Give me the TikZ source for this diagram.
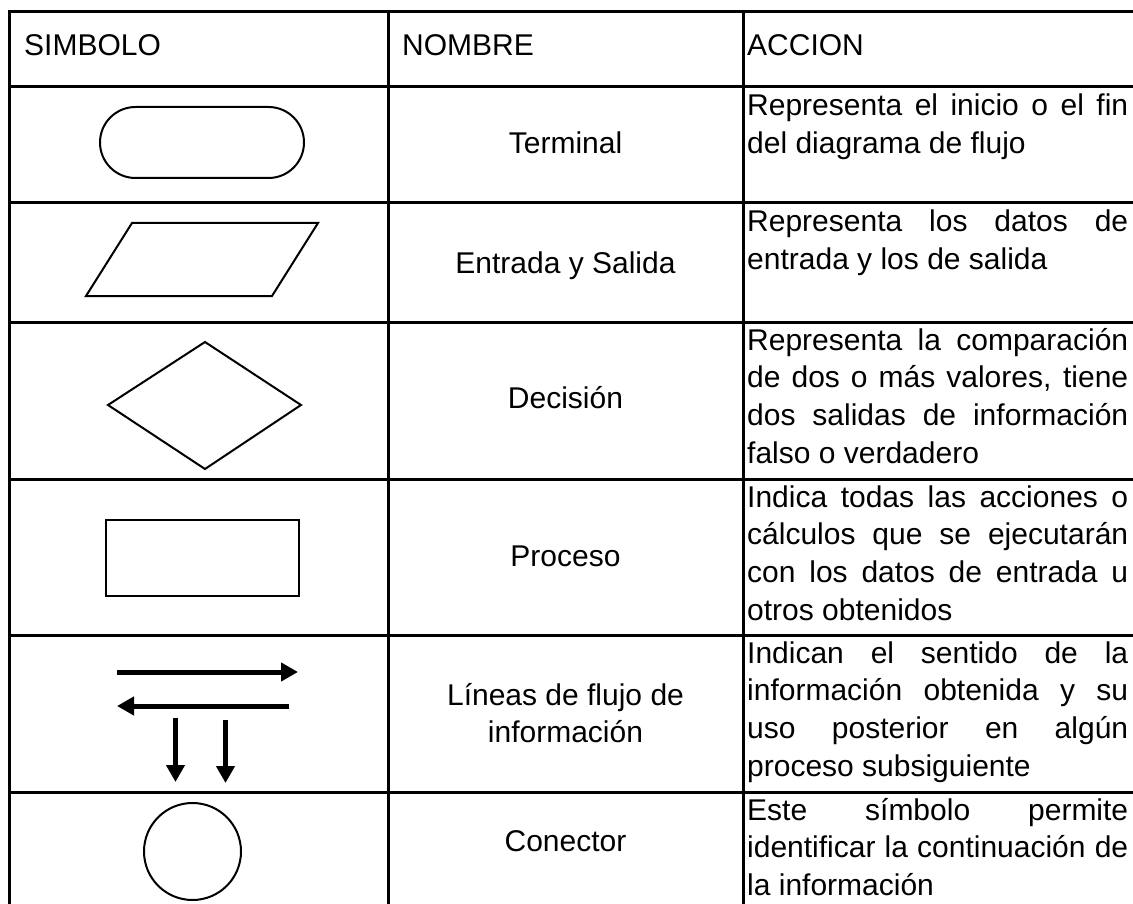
\documentclass[tikz,border=0pt]{standalone}
\usepackage{fontspec}
\setmainfont{Liberation Sans}
\usetikzlibrary{arrows.meta}
\tikzset{
  grid/.style={line width=3pt, line cap=rect},
  shapeline/.style={line width=2pt, line join=miter},
  flow/.style={line width=5pt, -{Triangle[length=17pt,width=18pt]}},
  txt/.style={inner sep=0pt, font=\fontsize{30}{37.7}\selectfont},
}
\newcommand{\jline}[1]{\makebox[381pt][s]{#1}}
\begin{document}
\begin{tikzpicture}[x=1pt,y=-1pt]
\useasboundingbox (0,0) rectangle (1133,904);
% table grid
\foreach \yy in {12,87,203,322,479,635,792} \draw[grid] (9,\yy) -- (1140,\yy);
\foreach \xx in {9,388,743} \draw[grid] (\xx,12) -- (\xx,910);
% header
\node[txt, anchor=base west] (hsim) at (24,56) {SIMBOLO};
\node[txt, anchor=base west] (hnom) at (402,56) {NOMBRE};
\node[txt, anchor=base west] (hacc) at (747,56) {ACCION};
% symbols
\draw[shapeline, rounded corners=35.5pt] (100,107) rectangle (304,178);
\draw[shapeline] (132,223) -- (318,223) -- (272,296) -- (86,296) -- cycle;
\draw[shapeline] (205,342) -- (301,405) -- (205,469) -- (108,405) -- cycle;
\draw[shapeline] (106,520) rectangle (299,596);
\coordinate (a1s) at (117,672);
\coordinate (a1e) at (298,672);
\coordinate (a2s) at (289,706);
\coordinate (a2e) at (117,706);
\coordinate (a3s) at (175.5,718);
\coordinate (a3e) at (175.5,782);
\coordinate (a4s) at (225.5,720);
\coordinate (a4e) at (225.5,783);
\draw[flow] (a1s) -- (a1e);
\draw[flow] (a2s) -- (a2e);
\draw[flow] (a3s) -- (a3e);
\draw[flow] (a4s) -- (a4e);
\draw[shapeline] (192.5,851.5) circle[radius=48.5];
% names
\node[txt, anchor=base] (n1) at (565.5,154) {Terminal};
\node[txt, anchor=base] (n2) at (565.5,274) {Entrada y Salida};
\node[txt, anchor=base] (n3) at (565.5,408) {Decisión};
\node[txt, anchor=base] (n4) at (565.5,566) {Proceso};
\node[txt, anchor=base] (n5) at (565.5,705) {\parbox[t]{330pt}{\centering Líneas de flujo de\\ información}};
\node[txt, anchor=base] (n6) at (565.5,851) {Conector};
% actions
\node[txt, anchor=base west] (d1) at (747,116) {\parbox[t]{381pt}{\jline{Representa el inicio o el fin}\\ del diagrama de flujo}};
\node[txt, anchor=base west] (d2) at (747,232) {\parbox[t]{381pt}{\jline{Representa los datos de}\\ entrada y los de salida}};
\node[txt, anchor=base west] (d3) at (747,350) {\parbox[t]{381pt}{\jline{Representa la comparación}\\ \jline{de dos o más valores, tiene}\\ \jline{dos salidas de información}\\ falso o verdadero}};
\node[txt, anchor=base west] (d4) at (747,507) {\parbox[t]{381pt}{\jline{Indica todas las acciones o}\\ \jline{cálculos que se ejecutarán}\\ \jline{con los datos de entrada u}\\ otros obtenidos}};
\node[txt, anchor=base west] (d5) at (747,663) {\parbox[t]{381pt}{\jline{Indican el sentido de la}\\ \jline{información obtenida y su}\\ \jline{uso posterior en algún}\\ proceso subsiguiente}};
\node[txt, anchor=base west] (d6) at (747,820) {\parbox[t]{381pt}{\jline{Este símbolo permite}\\ \jline{identificar la continuación de}\\ la información}};
\end{tikzpicture}
\end{document}
